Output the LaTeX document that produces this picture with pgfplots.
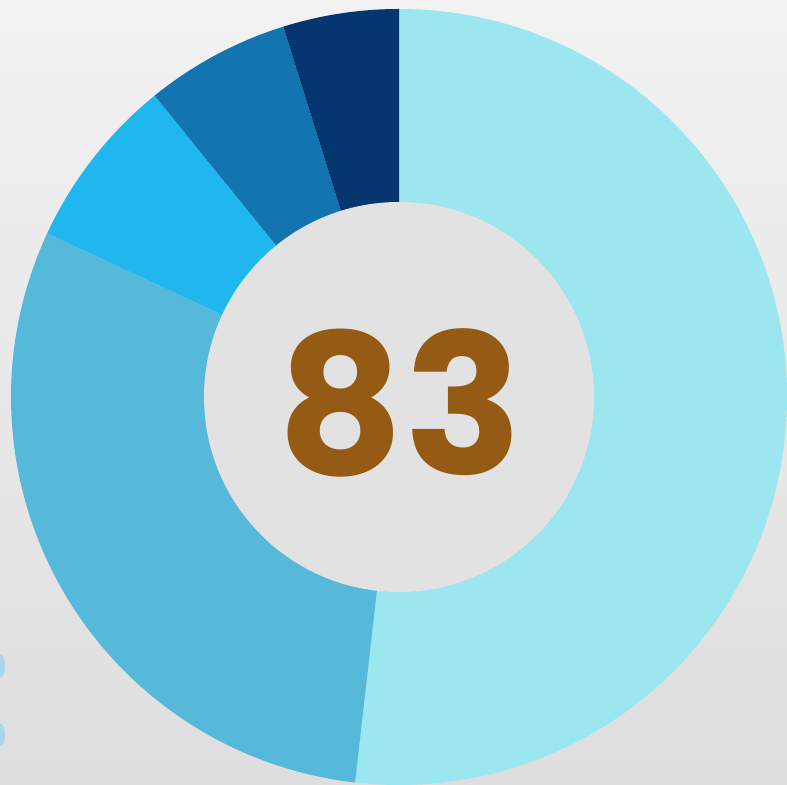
\documentclass[border=0pt]{standalone}
\usepackage{pgfplots}
\usepackage{pgfplotstable}
\pgfplotsset{compat=1.18}
\usepackage{fontspec}
\newfontfamily\numfont{Poppins}

\definecolor{segA}{HTML}{9CE6EF}
\definecolor{segB}{HTML}{56B9DA}
\definecolor{segC}{HTML}{20B7EE}
\definecolor{segD}{HTML}{1275AF}
\definecolor{segE}{HTML}{063670}
\definecolor{numbrown}{HTML}{955A13}
\definecolor{dotblue}{HTML}{A8D6EA}
\definecolor{holegray}{HTML}{E2E2E2}

% donut slices, clockwise from 12 o'clock
\pgfplotstableread{
share value col
A 43 segA
B 25 segB
C 6 segC
D 5 segD
E 4 segE
}\donutdata

\begin{document}
\begin{tikzpicture}
\begin{axis}[
  scale only axis,
  width=787bp, height=785bp,
  xmin=0, xmax=787, ymin=0, ymax=785,
  hide axis,
  clip marker paths=true,
]
% background
\fill[top color=black!5, bottom color=black!13] (axis cs:0,0) rectangle (axis cs:787,785);

% dots cut by the left edge
\addplot[only marks, mark=*, mark size=11bp, color=dotblue,
  mark options={xscale=0.45}] coordinates {(0,119) (0,50)};

% total
\def\total{0}
\pgfplotsforeachungrouped \i in {0,...,4} {
  \pgfplotstablegetelem{\i}{value}\of\donutdata
  \pgfmathsetmacro\total{\total+\pgfplotsretval}
}

% wedges
\def\cum{0}
\pgfplotsforeachungrouped \i in {0,...,4} {
  \pgfplotstablegetelem{\i}{col}\of\donutdata
  \let\col\pgfplotsretval
  \pgfplotstablegetelem{\i}{value}\of\donutdata
  \pgfmathsetmacro\angs{90-360*(\cum/\total)}
  \pgfmathsetmacro\cum{\cum+\pgfplotsretval}
  \pgfmathsetmacro\ange{90-360*(\cum/\total)}
  \pgfmathsetmacro\xo{399+388*cos(\angs)}
  \pgfmathsetmacro\yo{388+388*sin(\angs)}
  \pgfmathsetmacro\xin{399+194*cos(\ange)}
  \pgfmathsetmacro\yin{388+194*sin(\ange)}
  \edef\wedge{\noexpand\fill[\col] (axis cs:\xo,\yo)
    arc[start angle=\angs, end angle=\ange, radius=388bp]
    -- (axis cs:\xin,\yin)
    arc[start angle=\ange, end angle=\angs, radius=194bp] -- cycle;}
  \wedge
}

% hole
\fill[holegray] (axis cs:399,388) circle[radius=195bp];

\node[text=numbrown, font=\numfont\bfseries\fontsize{196}{196}\selectfont]
  at (axis cs:400,382) {83};
\end{axis}
\end{tikzpicture}
\end{document}
